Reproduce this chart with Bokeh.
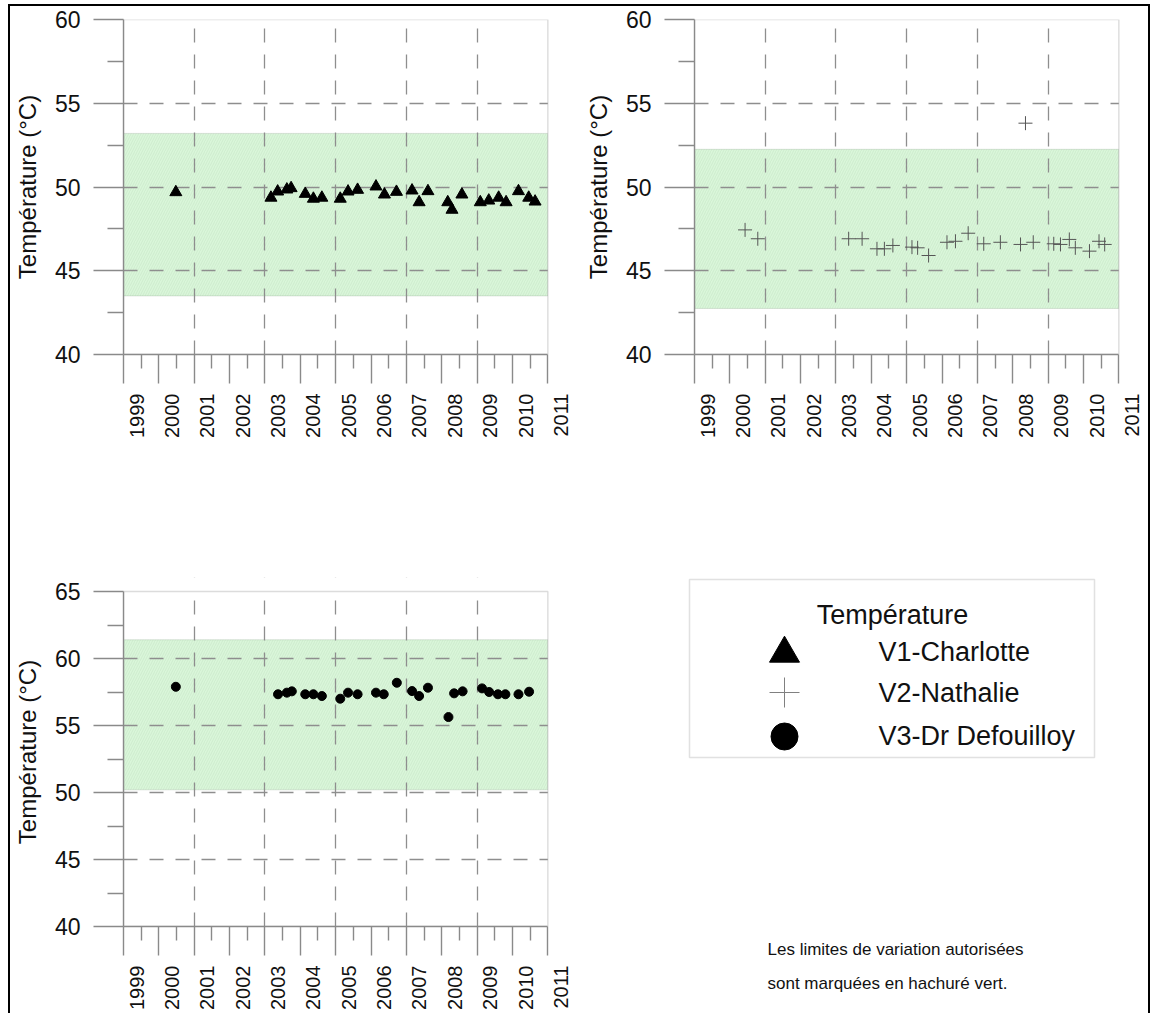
import math
from bokeh.plotting import figure
from bokeh.models import Range1d, FixedTicker, LinearAxis, BoxAnnotation, Grid, Title
from bokeh.layouts import row, column
from bokeh.embed import file_html
from bokeh.resources import INLINE
from bokeh.core.properties import value

FONT = "Liberation Sans"

# ---------------- data ----------------
years = list(range(1999, 2012))
year_labels = [str(y) for y in years]

v1_date = [2000.48, 2003.17, 2003.36, 2003.62, 2003.74, 2004.14, 2004.37, 2004.61,
           2005.13, 2005.35, 2005.62, 2006.14, 2006.38, 2006.72, 2007.16, 2007.36,
           2007.61, 2008.17, 2008.29, 2008.57, 2009.09, 2009.33, 2009.61, 2009.82,
           2010.17, 2010.46, 2010.64]
v1_temp = [49.69, 49.36, 49.73, 49.85, 49.93, 49.59, 49.30, 49.36,
           49.30, 49.73, 49.83, 50.03, 49.55, 49.71, 49.79, 49.09,
           49.75, 49.09, 48.64, 49.55, 49.09, 49.19, 49.36, 49.09,
           49.75, 49.36, 49.13]

v2_date = [2000.43, 2000.79, 2003.36, 2003.74, 2004.16, 2004.37, 2004.61, 2005.15,
           2005.31, 2005.62, 2006.14, 2006.38, 2006.74, 2007.18, 2007.65, 2008.22,
           2008.36, 2008.58, 2009.16, 2009.35, 2009.60, 2009.77, 2010.17, 2010.44,
           2010.60]
v2_temp = [47.44, 46.91, 46.91, 46.91, 46.31, 46.31, 46.51, 46.41,
           46.37, 45.91, 46.70, 46.76, 47.24, 46.61, 46.70, 46.57,
           53.81, 46.70, 46.61, 46.57, 46.87, 46.37, 46.17, 46.76,
           46.57]

v3_date = [2000.48, 2003.37, 2003.62, 2003.76, 2004.14, 2004.37, 2004.61, 2005.13,
           2005.35, 2005.62, 2006.14, 2006.36, 2006.73, 2007.16, 2007.36, 2007.61,
           2008.19, 2008.35, 2008.59, 2009.14, 2009.34, 2009.59, 2009.80, 2010.17,
           2010.47]
v3_temp = [57.89, 57.33, 57.45, 57.55, 57.33, 57.33, 57.20, 57.00,
           57.45, 57.33, 57.45, 57.33, 58.19, 57.57, 57.20, 57.82,
           55.63, 57.40, 57.55, 57.77, 57.50, 57.33, 57.33, 57.33,
           57.52]

# allowed variation limits (green hatched bands)
band_v1 = [43.5, 53.2]
band_v2 = [42.75, 52.25]
band_v3 = [50.2, 61.4]

y_ticks_top = [40, 45, 50, 55, 60]
y_minor_top = [42.5, 47.5, 52.5, 57.5]
y_ticks_bottom = [40, 45, 50, 55, 60, 65]
y_minor_bottom = [42.5, 47.5, 52.5, 57.5, 62.5]
x_grid_years = [2001, 2003, 2005, 2007, 2009]

y_title = "Température (°C)"
legend_title = "Température"
legend_labels = ["V1-Charlotte", "V2-Nathalie", "V3-Dr Defouilloy"]
note_lines = ["Les limites de variation autorisées", "sont marquées en hachuré vert."]

# ---------------- style ----------------
GRAY = "#8a8a8a"
GRID = "#8e8e8e"
TXT = "#111111"
X_START, X_END = years[0], years[-1]
LABEL_SHIFT = 0.37
PX_PER_UNIT_BOT = 335 / 25.0


def panel(y_lo, y_hi, yt, ymt, band, b_top, b_bottom, b_right, frame_h, y_view_hi):
    p = figure(x_range=Range1d(X_START, X_END + 0.5), y_range=Range1d(y_lo, y_view_hi),
               frame_width=442, frame_height=frame_h,
               min_border_left=112, min_border_right=b_right,
               min_border_top=b_top, min_border_bottom=b_bottom,
               x_axis_type=None, y_axis_type=None,
               toolbar_location=None, output_backend="svg",
               outline_line_color=None, background_fill_color="white",
               border_fill_color="white")
    p.extra_x_ranges = {"lab": Range1d(X_START - LABEL_SHIFT, X_END + 0.5 - LABEL_SHIFT)}

    # allowed band
    p.add_layout(BoxAnnotation(left=X_START, right=X_END, bottom=band[0], top=band[1],
                               fill_color="#daf6da", fill_alpha=1.0,
                               hatch_pattern="/", hatch_color="#c0e2c0",
                               hatch_scale=5, hatch_weight=0.5, hatch_alpha=1.0,
                               line_color="#98a898", line_width=1, level="image"))
    # grids
    gy = [t for t in yt if t not in (y_lo, y_hi)]
    p.add_layout(Grid(dimension=1, ticker=FixedTicker(ticks=gy),
                      grid_line_color=GRID, grid_line_width=1.3,
                      grid_line_dash="14 12"), "center")
    p.add_layout(Grid(dimension=0, ticker=FixedTicker(ticks=x_grid_years),
                      grid_line_color=GRID, grid_line_width=1.3,
                      grid_line_dash="14 12"), "center")
    # masks outside the plotted box
    p.add_layout(BoxAnnotation(left=X_END, fill_color="white", fill_alpha=1.0,
                               line_color=None, level="glyph"))
    if y_view_hi > y_hi:
        p.add_layout(BoxAnnotation(bottom=y_hi, fill_color="white", fill_alpha=1.0,
                                   line_color=None, level="glyph"))
    # frame box
    p.add_layout(BoxAnnotation(left=X_START, right=X_END, bottom=y_lo, top=y_hi,
                               fill_alpha=0, line_color=GRAY, line_width=1.4,
                               level="overlay"))

    # y axis
    ya = LinearAxis(ticker=FixedTicker(ticks=yt, minor_ticks=ymt),
                    bounds=(y_lo, y_hi),
                    axis_label=y_title,
                    axis_label_text_font=FONT, axis_label_text_font_size="24px",
                    axis_label_text_font_style="normal", axis_label_text_color=TXT,
                    axis_label_standoff=11,
                    major_label_text_font=FONT, major_label_text_font_size="23px",
                    major_label_text_color=TXT, major_label_standoff=13,
                    axis_line_color=GRAY, axis_line_width=1.4,
                    major_tick_line_color=GRAY, major_tick_line_width=1.4,
                    major_tick_out=30, major_tick_in=0,
                    minor_tick_line_color=GRAY, minor_tick_line_width=1.4,
                    minor_tick_out=16, minor_tick_in=0)
    p.add_layout(ya, "left")

    # half-year short ticks (no labels), attached to the frame
    half = [y + 0.5 for y in years[:-1]]
    xa = LinearAxis(ticker=FixedTicker(ticks=[], minor_ticks=half),
                    bounds=(X_START, X_END), major_label_standoff=0,
                    axis_line_color=GRAY, axis_line_width=1.4,
                    major_tick_line_color=None, major_tick_out=0, major_tick_in=0,
                    minor_tick_line_color=GRAY, minor_tick_line_width=1.4,
                    minor_tick_out=14, minor_tick_in=0)
    p.add_layout(xa, "below")
    # yearly long ticks, reaching back up to the frame
    xb = LinearAxis(ticker=FixedTicker(ticks=[], minor_ticks=years),
                    bounds=(X_START, X_END), major_label_standoff=0,
                    axis_line_color=None,
                    major_tick_line_color=None, major_tick_out=0, major_tick_in=0,
                    minor_tick_line_color=GRAY, minor_tick_line_width=1.4,
                    minor_tick_out=15, minor_tick_in=14)
    p.add_layout(xb, "below")
    # year labels (shifted as in the original)
    xl = LinearAxis(x_range_name="lab", ticker=FixedTicker(ticks=years, minor_ticks=[]),
                    major_label_overrides={y: s for y, s in zip(years, year_labels)},
                    major_label_orientation=math.pi / 2,
                    major_label_text_font=FONT, major_label_text_font_size="20px",
                    major_label_text_color=TXT, major_label_standoff=10,
                    axis_line_color=None, major_tick_line_color=None,
                    minor_tick_line_color=None, major_tick_out=0, major_tick_in=0)
    p.add_layout(xl, "below")
    return p


tl = panel(40, 60, y_ticks_top, y_minor_top, band_v1, 13, 102, 16, 335, 60)
tl.scatter(v1_date, v1_temp, marker="triangle", size=12,
           fill_color="black", line_color="black")

tr = panel(40, 60, y_ticks_top, y_minor_top, band_v2, 13, 102, 12, 335, 60)
tr.scatter(v2_date, v2_temp, marker="cross", size=14,
           line_color="#555555", line_width=1)

# lower row: frame extended 14 px upwards (masked) so the legend box fits in the
# aligned frame of the right-hand panel
EXTRA = 14
BL_FRAME_H = 335 + EXTRA
BL_TOP, BL_BOTTOM = 135 - EXTRA, 87
bl = panel(40, 65, y_ticks_bottom, y_minor_bottom, band_v3, BL_TOP, BL_BOTTOM, 16,
           BL_FRAME_H, 65 + EXTRA / PX_PER_UNIT_BOT)
bl.scatter(v3_date, v3_temp, marker="circle", size=9,
           fill_color="black", line_color="black")

# ---------------- legend / note panel (page-pixel coordinates) ----------------
X0 = 580                       # page x of this panel's left edge
Y_FRAME_TOP = 456 + BL_TOP     # page y of the frame top (aligned with lower-left plot)
br = figure(frame_width=566, frame_height=BL_FRAME_H,
            min_border_left=0, min_border_right=0,
            min_border_top=BL_TOP, min_border_bottom=BL_BOTTOM,
            x_range=Range1d(X0, X0 + 566),
            y_range=Range1d(Y_FRAME_TOP + BL_FRAME_H, Y_FRAME_TOP),
            x_axis_type=None, y_axis_type=None,
            toolbar_location=None, output_backend="svg", outline_line_color=None)
br.add_layout(BoxAnnotation(left=688, right=1093, top=579, bottom=757,
                            fill_alpha=0, line_color="#9a9a9a", line_width=1.5))
br.text(x=[891], y=[614], text=[legend_title], text_font=value(FONT),
        text_font_size="27px", text_align="center", text_baseline="middle",
        text_color=TXT)
br.scatter([783], [653], marker="triangle", size=30, fill_color="black", line_color="black")
br.scatter([783], [692], marker="cross", size=30, line_color="#808080", line_width=1)
br.scatter([783], [736], marker="circle", size=27, fill_color="black", line_color="black")
br.text(x=[877, 877, 877], y=[651, 692, 735], text=legend_labels, text_font=value(FONT),
        text_font_size="27px", text_align="left", text_baseline="middle",
        text_color=TXT)
# note below the frame, as titles of the lower panel
for line, so in zip(note_lines, [22, 4]):
    br.add_layout(Title(text=line, align="left", offset=766 - X0,
                        text_font=FONT, text_font_size="17px", text_font_style="normal",
                        text_color=TXT, standoff=so, vertical_align="bottom"), "below")

root = column(row(tl, tr), row(bl, br),
              styles={"border-top": "2px solid black", "border-left": "2px solid black",
                      "border-right": "2px solid black", "margin": "4px 0 0 8px"})

open("out.html", "w").write(file_html(root, INLINE))
